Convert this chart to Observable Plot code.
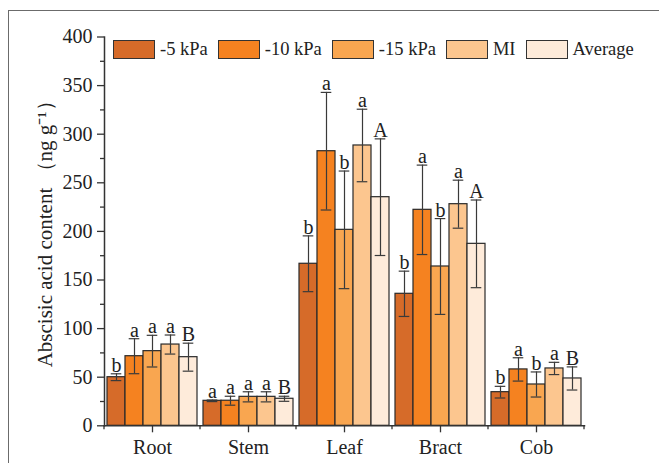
<!DOCTYPE html>
<html>
<head>
<meta charset="utf-8">
<script src="https://cdn.jsdelivr.net/npm/d3@7"></script>
<script src="https://cdn.jsdelivr.net/npm/@observablehq/plot@0.6"></script>
<style>
  html, body { margin: 0; padding: 0; background: #fff; }
  #wrap { position: relative; width: 659px; height: 463px; overflow: hidden; font-family: "Liberation Serif", "Times New Roman", serif; }
  #border { position: absolute; left: 8px; top: 10px; width: 700px; height: 500px; border-top: 1.5px solid #6b6b6b; border-left: 1.5px solid #6b6b6b; box-sizing: border-box; }
  #chart { position: absolute; left: 0; top: 0; }
  #legend { position: absolute; left: 113px; top: 39px; display: flex; gap: 10px; align-items: center; font-size: 18.5px; color: #222; }
  .item { display: flex; align-items: center; gap: 5px; }
  .sw { width: 42px; height: 19px; border: 1.2px solid #333; box-sizing: border-box; }
</style>
</head>
<body>
<div id="wrap">
  <div id="border"></div>
  <div id="chart"></div>
  <div id="legend"></div>
</div>
<script>
const categories = ["Root", "Stem", "Leaf", "Bract", "Cob"];
const series = ["-5 kPa", "-10 kPa", "-15 kPa", "MI", "Average"];
const colors = ["#D66B29", "#F58220", "#F9A650", "#FCC68F", "#FEEBDA"];
// values[category][series]
const values = {
  Root:  [50.0, 71.6, 76.8, 83.6, 70.6],
  Stem:  [25.7, 25.8, 29.8, 29.8, 27.8],
  Leaf:  [166.7, 282.5, 201.6, 288.4, 235.2],
  Bract: [135.8, 222.2, 163.9, 228.0, 187.2],
  Cob:   [34.6, 58.0, 42.5, 59.0, 48.7]
};
const errors = {
  Root:  [3.5, 18.0, 16.3, 9.8, 14.4],
  Stem:  [0.8, 4.6, 5.2, 5.2, 2.6],
  Leaf:  [28.7, 60.5, 60.5, 37.3, 60.0],
  Bract: [23.3, 46.0, 49.3, 24.7, 45.1],
  Cob:   [6.0, 12.0, 12.9, 6.3, 11.9]
};
const letters = {
  Root:  ["b", "a", "a", "a", "B"],
  Stem:  ["a", "a", "a", "a", "B"],
  Leaf:  ["b", "a", "b", "a", "A"],
  Bract: ["b", "a", "b", "a", "A"],
  Cob:   ["b", "a", "b", "a", "B"]
};
const yTicks = [0, 50, 100, 150, 200, 250, 300, 350, 400];
const yMinorTicks = [25, 75, 125, 175, 225, 275, 325, 375];
const yTitle = "Abscisic acid content （ng g⁻¹）";

const data = categories.flatMap(c => series.map((s, i) => ({
  category: c, series: s, value: values[c][i], err: errors[c][i], label: letters[c][i]
})));

const axisColor = "#333";
const font = "Liberation Serif, Times New Roman, serif";

const chart = Plot.plot({
  width: 659,
  height: 463,
  marginLeft: 104,
  marginRight: 75,
  marginTop: 36.5,
  marginBottom: 37.7,
  style: {fontFamily: font, color: "#222", background: "transparent", overflow: "visible"},
  fx: {domain: categories, padding: 0, label: null},
  x: {domain: series, paddingInner: 0, paddingOuter: 0.1, axis: null},
  y: {domain: [0, 400], label: null},
  color: {domain: series, range: colors},
  marks: [
    Plot.barY(data, {fx: "category", x: "series", y: "value", fill: "series", stroke: "#2a2a2a", strokeWidth: 1.2}),
    Plot.ruleX(data, {fx: "category", x: "series", y1: d => d.value - d.err, y2: d => d.value + d.err, stroke: "#3a3a3a", strokeWidth: 1.2}),
    Plot.tickY(data, {fx: "category", x: "series", y: d => d.value + d.err, stroke: "#3a3a3a", strokeWidth: 1.2, insetLeft: 3.7, insetRight: 3.7}),
    Plot.tickY(data, {fx: "category", x: "series", y: d => d.value - d.err, stroke: "#3a3a3a", strokeWidth: 1.2, insetLeft: 3.7, insetRight: 3.7}),
    Plot.text(data, {fx: "category", x: "series", y: d => d.value + d.err, text: "label", dy: -2, lineAnchor: "bottom", fontSize: 20, fill: "#222"}),
    Plot.frame({anchor: "left", facet: "super", stroke: axisColor, strokeWidth: 1.5}),
    Plot.frame({anchor: "bottom", facet: "super", stroke: axisColor, strokeWidth: 1.5}),
    Plot.axisY({ticks: yTicks, tickSize: 7, tickPadding: 5, fontSize: 20, label: null, stroke: axisColor, strokeWidth: 1.3}),
    Plot.axisY({ticks: yMinorTicks, tickSize: 4, tickFormat: () => "", label: null, stroke: axisColor, strokeWidth: 1.3}),
    Plot.axisFx({anchor: "bottom", tickSize: 7, tickPadding: 7, fontSize: 20, label: null, stroke: axisColor, strokeWidth: 1.3}),
    Plot.frame({
      facet: "super",
      render(index, scales, vals, dims) {
        const fx = scales.fx;
        const y0 = dims.height - dims.marginBottom;
        let xs;
        if (fx && typeof fx.bandwidth === "function") {
          xs = categories.map(c => fx(c));
          xs.push(fx(categories[categories.length - 1]) + fx.bandwidth());
        } else {
          const w = (dims.width - dims.marginLeft - dims.marginRight) / categories.length;
          xs = d3.range(categories.length + 1).map(i => dims.marginLeft + i * w);
        }
        const g = d3.create("svg:g").attr("stroke", axisColor).attr("stroke-width", 1.3);
        for (const x of xs) g.append("line").attr("x1", x).attr("x2", x).attr("y1", y0).attr("y2", y0 + 4);
        return g.node();
      }
    }),
    Plot.text([yTitle], {facet: "super", frameAnchor: "left", textAnchor: "middle", rotate: -90, dx: -59, dy: -2.5, fontSize: 21, fill: "#222"})
  ]
});
document.getElementById("chart").appendChild(chart);

const legend = document.getElementById("legend");
series.forEach((s, i) => {
  const item = document.createElement("div");
  item.className = "item";
  const sw = document.createElement("div");
  sw.className = "sw";
  sw.style.background = colors[i];
  const t = document.createElement("span");
  t.textContent = s;
  item.appendChild(sw);
  item.appendChild(t);
  legend.appendChild(item);
});
</script>
</body>
</html>
